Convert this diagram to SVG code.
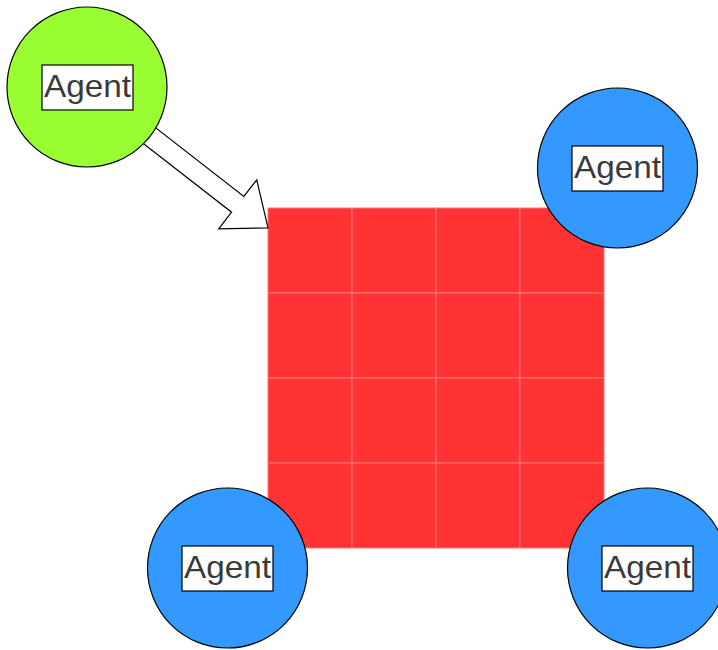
<svg xmlns="http://www.w3.org/2000/svg" width="718" height="650" viewBox="0 0 718 650">
  <style>
    .agent { stroke: #000000; stroke-width: 1.2; }
    .green { fill: #99FF33; }
    .blue { fill: #3399FF; }
    .tag { fill: #FFFFFF; stroke: #000000; stroke-width: 1.2; }
    .label { font-family: "Liberation Sans", Arial, Helvetica, sans-serif; font-size: 32px; fill: #3a3a3a; text-anchor: middle; }
    .cell { fill: #FF3333; stroke: #FF7777; stroke-width: 1; }
  </style>

  <!-- 4x4 grid world -->
  <g id="grid">
    <rect class="cell" x="268" y="208" width="84" height="85"/>
    <rect class="cell" x="352" y="208" width="84" height="85"/>
    <rect class="cell" x="436" y="208" width="84" height="85"/>
    <rect class="cell" x="520" y="208" width="84" height="85"/>
    <rect class="cell" x="268" y="293" width="84" height="85"/>
    <rect class="cell" x="352" y="293" width="84" height="85"/>
    <rect class="cell" x="436" y="293" width="84" height="85"/>
    <rect class="cell" x="520" y="293" width="84" height="85"/>
    <rect class="cell" x="268" y="378" width="84" height="85"/>
    <rect class="cell" x="352" y="378" width="84" height="85"/>
    <rect class="cell" x="436" y="378" width="84" height="85"/>
    <rect class="cell" x="520" y="378" width="84" height="85"/>
    <rect class="cell" x="268" y="463" width="84" height="85"/>
    <rect class="cell" x="352" y="463" width="84" height="85"/>
    <rect class="cell" x="436" y="463" width="84" height="85"/>
    <rect class="cell" x="520" y="463" width="84" height="85"/>
  </g>

  <!-- block arrow from the new agent into the grid -->
  <g id="connectors">
    <polygon transform="translate(87 87) rotate(37.9)" points="0,-10 191,-10 191,-31 229.4,0 191,31 191,10 0,10" fill="#FFFFFF" stroke="#000000" stroke-width="1.2" stroke-linejoin="miter"/>
  </g>

  <g id="agent-new">
    <circle class="agent green" cx="87" cy="87" r="80"/>
    <rect class="tag" x="42" y="65" width="91" height="45"/>
    <text class="label" x="87.5" y="96.5" textLength="87" lengthAdjust="spacingAndGlyphs">Agent</text>
  </g>

  <g id="agent-top-right">
    <circle class="agent blue" cx="617.5" cy="168" r="80"/>
    <rect class="tag" x="572" y="146" width="91" height="45"/>
    <text class="label" x="617.5" y="177.5" textLength="87" lengthAdjust="spacingAndGlyphs">Agent</text>
  </g>

  <g id="agent-bottom-left">
    <circle class="agent blue" cx="227.5" cy="568" r="80"/>
    <rect class="tag" x="182" y="546" width="91" height="45"/>
    <text class="label" x="227.5" y="577.5" textLength="87" lengthAdjust="spacingAndGlyphs">Agent</text>
  </g>

  <g id="agent-bottom-right">
    <circle class="agent blue" cx="647.5" cy="568" r="80"/>
    <rect class="tag" x="602" y="546" width="91" height="45"/>
    <text class="label" x="647.5" y="577.5" textLength="87" lengthAdjust="spacingAndGlyphs">Agent</text>
  </g>
</svg>
